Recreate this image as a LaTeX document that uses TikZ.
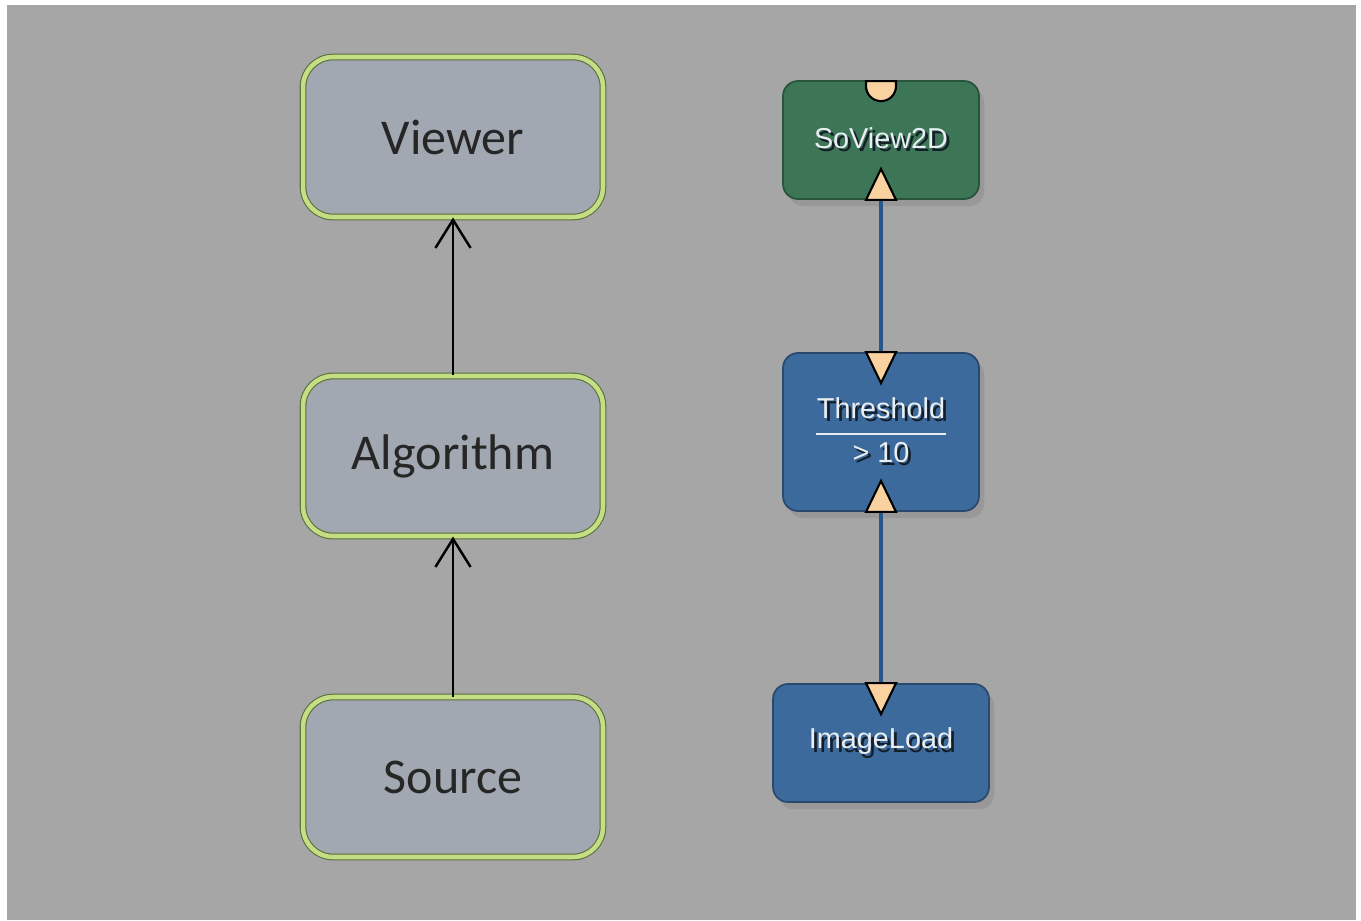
\documentclass[tikz,border=0pt]{standalone}
\usepackage{fontspec}
\setmainfont{Carlito}
\newfontfamily\modfont{Liberation Sans}
\usetikzlibrary{arrows.meta,shadows,calc}
\definecolor{bgGray}{RGB}{166,166,166}
\definecolor{boxFill}{RGB}{161,168,177}
\definecolor{boxBand}{RGB}{196,222,132}
\definecolor{boxEdge}{RGB}{88,108,58}
\definecolor{viewGreen}{RGB}{60,118,86}
\definecolor{modBlue}{RGB}{60,106,156}
\definecolor{wireBlue}{RGB}{40,86,140}
\definecolor{portFill}{RGB}{250,210,160}
\definecolor{modText}{RGB}{232,238,242}
\definecolor{modShade}{RGB}{20,30,40}
\newcommand{\shadowed}[1]{\rlap{\hspace{1.6pt}\raisebox{-1.8pt}{\color{modShade}#1}}#1}
\begin{document}
\begin{tikzpicture}[x=0.02cm,y=-0.02cm,line join=round,
	box/.style={draw=boxEdge,double=boxBand,double distance=2.6pt,line width=0.6pt,
		fill=boxFill,rounded corners=0.6cm,minimum width=6cm,minimum height=3.2cm,
		font=\fontsize{28.5}{32}\selectfont,text=black!85},
	module/.style={draw=#1!70!black,line width=1pt,fill=#1,rounded corners=0.3cm,
		minimum width=3.92cm,minimum height=2.36cm,
		drop shadow={shadow xshift=3pt,shadow yshift=-4pt,opacity=0.35},
		font=\modfont\fontsize{16.4}{19}\selectfont,text=modText,align=center},
	flow/.style={line width=1.4pt,-{Straight Barb[length=16pt,width=20pt,line width=1.4pt]}},
	wire/.style={draw=wireBlue,line width=1.8pt},
	port/.style={fill=portFill,draw=black,line width=1.2pt,line join=miter}]
	\def\pw{15}
	\def\ph{31}
	% background
	\useasboundingbox (0,0) rectangle (1361,920);
	\fill[white] (0,0) rectangle (1361,920);
	\fill[bgGray] (7,5) rectangle (1356,920);
	% concept
	\node[box] (viewer) at (453,137) {Viewer};
	\node[box] (alg) at (453,456) {Algorithm};
	\node[box] (src) at (453,777) {Source};
	\draw[flow] (src) -- (alg);
	\draw[flow] (alg) -- (viewer);
	% network
	\node[module=viewGreen] (view2d) at (881,140) {\shadowed{SoView2D}};
	\node[module=modBlue,minimum height=3.16cm] (thr) at (881,432)
		{\shadowed{Threshold}\\[-10pt]{\color{modText}\rule{2.6cm}{1.1pt}}\\[-3pt]\shadowed{> 10}};
	\node[module=modBlue,minimum width=4.32cm] (img) at (881,743) {\shadowed{ImageLoad}};
	\draw[wire] (img.north) -- (thr.south);
	\draw[wire] (thr.north) -- (view2d.south);
	% ports
	\foreach \m in {view2d,thr}
	{\draw[port] ($(\m.south)+(-\pw,0)$) -- ($(\m.south)+(\pw,0)$) -- ($(\m.south)+(0,-\ph)$) -- cycle;}
	\foreach \m in {thr,img}
	{\draw[port] ($(\m.north)+(-\pw,0)$) -- ($(\m.north)+(\pw,0)$) -- ($(\m.north)+(0,\ph)$) -- cycle;}
	\draw[port] ($(view2d.north)+(-15,1)$) -- ++(0,5) arc[start angle=180,end angle=0,radius=15] -- ++(0,-5) -- cycle;
\end{tikzpicture}
\end{document}
